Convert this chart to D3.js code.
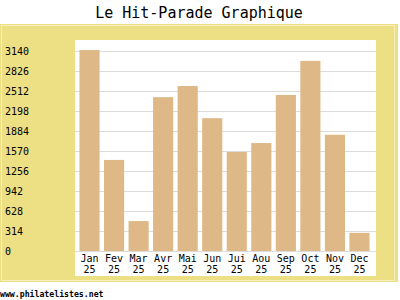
<!DOCTYPE html>
<head>
  <meta charset="utf-8">
  <script src="https://d3js.org/d3.v7.min.js"></script>
  <style>
    body { margin:0; background:#fff; }
    svg { display:block; }
    text { font-family: "DejaVu Sans Mono", monospace; }
  </style>
</head>
<body>
  <svg width="400" height="300"></svg>
  <script>
    var months = ['Jan', 'Fev', 'Mar', 'Avr', 'Mai', 'Jun', 'Jui', 'Aou', 'Sep', 'Oct', 'Nov', 'Dec'];
    var years = ['25', '25', '25', '25', '25', '25', '25', '25', '25', '25', '25', '25'];
    var hits = [3155, 1430, 470, 2415, 2590, 2085, 1555, 1695, 2450, 2985, 1825, 285];
    var yTicks = [0, 314, 628, 942, 1256, 1570, 1884, 2198, 2512, 2826, 3140];

    var svg = d3.select('svg');

    // frame
    svg.append('rect')
      .attr('x', 0).attr('y', 24).attr('width', 398).attr('height', 258)
      .attr('fill', '#eddf84');
    svg.append('rect')
      .attr('x', 1.5).attr('y', 25.5).attr('width', 393).attr('height', 255)
      .attr('fill', 'none').attr('stroke', '#f6eebc').attr('stroke-width', 1);

    // plot area
    svg.append('rect')
      .attr('x', 75).attr('y', 40).attr('width', 301).attr('height', 236)
      .attr('fill', '#fff');

    var x = d3.scaleBand()
      .domain(months)
      .range([77.5, 371.5])
      .paddingInner(0.18)
      .paddingOuter(0.08);

    var y = d3.scaleLinear()
      .domain([0, 3140])
      .range([251, 51]);

    // grid
    svg.append('g').selectAll('line')
      .data(yTicks)
      .enter().append('line')
      .attr('x1', 75).attr('x2', 376)
      .attr('y1', d => Math.round(y(d)) + 0.5)
      .attr('y2', d => Math.round(y(d)) + 0.5)
      .attr('stroke', '#dcdcdc');

    // y labels
    svg.append('g').selectAll('text')
      .data(yTicks)
      .enter().append('text')
      .attr('x', 5)
      .attr('y', d => y(d) + 3.5)
      .attr('font-size', 10)
      .attr('fill', '#000')
      .text(d => d);

    // bars
    svg.append('g').selectAll('rect')
      .data(hits)
      .enter().append('rect')
      .attr('x', (d, i) => x(months[i]))
      .attr('y', d => y(d))
      .attr('width', x.bandwidth())
      .attr('height', d => y(0) - y(d))
      .attr('fill', '#deb887');

    // x labels, two lines
    var xg = svg.append('g').attr('font-size', 10).attr('text-anchor', 'middle');
    xg.selectAll('text.m')
      .data(months)
      .enter().append('text')
      .attr('class', 'm')
      .attr('x', d => x(d) + x.bandwidth() / 2)
      .attr('y', 261.5)
      .text(d => d);
    xg.selectAll('text.yr')
      .data(years)
      .enter().append('text')
      .attr('class', 'yr')
      .attr('x', (d, i) => x(months[i]) + x.bandwidth() / 2)
      .attr('y', 272.5)
      .text(d => d);

    // title
    svg.append('text')
      .attr('x', 199).attr('y', 18)
      .attr('text-anchor', 'middle')
      .attr('font-size', 15)
      .text('Le Hit-Parade Graphique');

    // footer
    svg.append('text')
      .attr('x', 0).attr('y', 297)
      .attr('font-size', 8.2)
      .attr('font-weight', 'bold')
      .text('www.philatelistes.net');
  </script>
</body>
